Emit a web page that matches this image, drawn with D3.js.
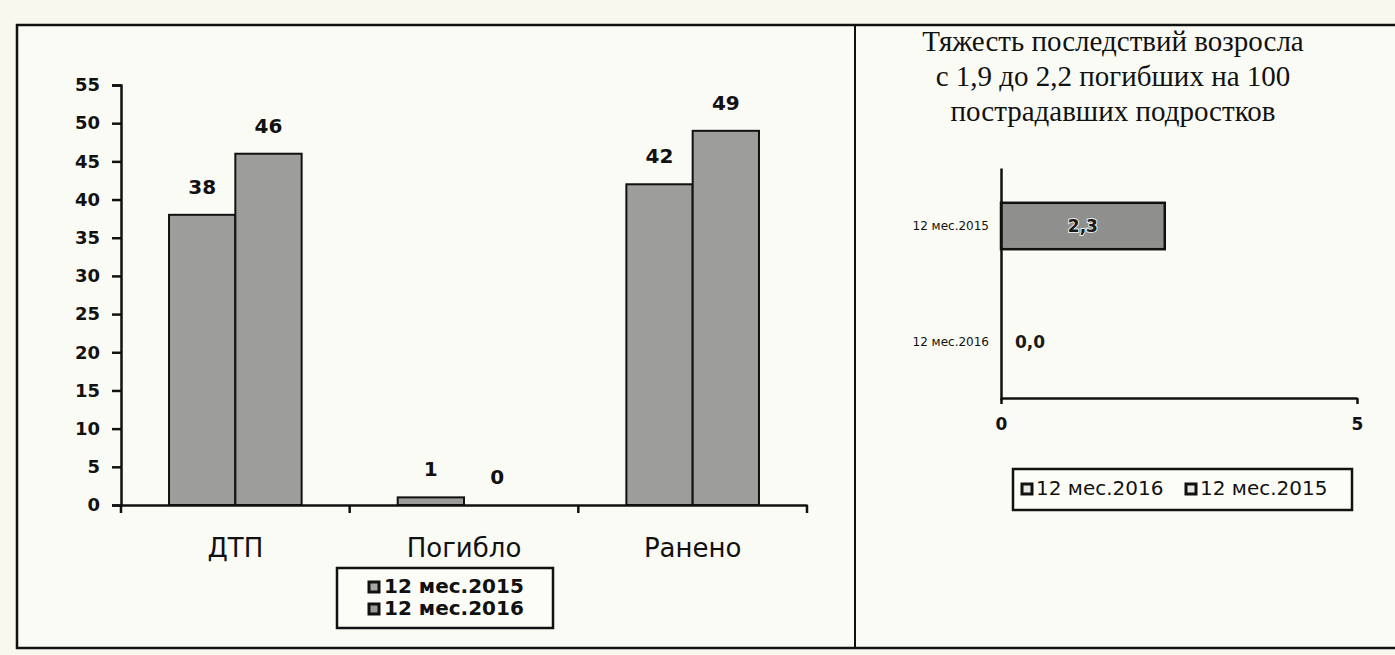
<!DOCTYPE html>
<html>
<head>
<meta charset="utf-8">
<script src="https://cdn.jsdelivr.net/npm/d3@7"></script>
<style>
  html, body { margin: 0; padding: 0; background: #f8f8ef; }
  svg { display: block; }
</style>
</head>
<body>
<svg id="chart" width="1395" height="655"></svg>
<script>
// ---- data ----
const categories = ["ДТП", "Погибло", "Ранено"];
const seriesNames = ["12 мес.2015", "12 мес.2016"];
const values2015 = [38, 1, 42];
const values2016 = [46, 0, 49];
const yTickValues = [0, 5, 10, 15, 20, 25, 30, 35, 40, 45, 50, 55];

const titleLines = ["Тяжесть последствий возросла", "с 1,9 до 2,2 погибших на 100", "пострадавших подростков"];
const severityCategories = ["12 мес.2015", "12 мес.2016"];
const severityValues = [2.3, 0.0];
const severityLabels = ["2,3", "0,0"];
const severityTicks = [0, 5];
const severityLegend = ["12 мес.2016", "12 мес.2015"];

// ---- setup ----
const svg = d3.select("#chart");
const SANS = "DejaVu Sans, Arial, sans-serif";
const SERIF = "Liberation Serif, Times New Roman, serif";
const barFill = "#9d9d9b";
const ink = "#111";

svg.append("rect").attr("x", 0).attr("y", 0).attr("width", 1395).attr("height", 655).attr("fill", "#f8f8ef");
// outer frame and divider
svg.append("rect").attr("x", 17).attr("y", 25).attr("width", 1400).attr("height", 623)
  .attr("fill", "#fbfbf5").attr("stroke", ink).attr("stroke-width", 2.5);
svg.append("line").attr("x1", 855).attr("x2", 855).attr("y1", 25).attr("y2", 648)
  .attr("stroke", ink).attr("stroke-width", 2);

// ---- left chart ----
const left = svg.append("g");
const x0 = d3.scaleBand().domain(categories).range([121, 807]).paddingInner(0.42).paddingOuter(0.21);
const x1 = d3.scaleBand().domain(seriesNames).range([0, x0.bandwidth()]);
const y = d3.scaleLinear().domain([0, 55]).range([505, 85]);

const rows = categories.map((c, i) => ({ cat: c, vals: [values2015[i], values2016[i]] }));

const groups = left.selectAll("g.grp").data(rows).join("g")
  .attr("class", "grp")
  .attr("transform", d => `translate(${x0(d.cat)},0)`);

groups.selectAll("rect").data(d => d.vals.map((v, j) => ({ s: seriesNames[j], v })))
  .join("rect")
  .filter(d => d.v > 0)
  .attr("x", d => x1(d.s))
  .attr("y", d => y(d.v))
  .attr("width", x1.bandwidth())
  .attr("height", d => y(0) - y(d.v))
  .attr("fill", barFill)
  .attr("stroke", ink)
  .attr("stroke-width", 2);

groups.selectAll("text.val").data(d => d.vals.map((v, j) => ({ s: seriesNames[j], v })))
  .join("text")
  .attr("class", "val")
  .attr("x", d => x1(d.s) + x1.bandwidth() / 2)
  .attr("y", d => y(d.v) - 21)
  .attr("text-anchor", "middle")
  .attr("font-family", SANS)
  .attr("font-weight", "bold")
  .attr("font-size", 20)
  .attr("fill", ink)
  .text(d => d.v);

// y axis
const yAxis = left.append("g")
  .attr("transform", `translate(${x0.range()[0]},0)`)
  .call(d3.axisLeft(y).tickValues(yTickValues).tickSize(9).tickPadding(12));
yAxis.select(".domain").attr("stroke", ink).attr("stroke-width", 2.5);
yAxis.selectAll(".tick line").attr("stroke", ink).attr("stroke-width", 2.5);
yAxis.selectAll(".tick text").attr("font-family", SANS).attr("font-weight", "bold")
  .attr("font-size", 18).attr("fill", ink);

// x axis
const xAxis = left.append("g")
  .attr("transform", `translate(0,${y(0)})`)
  .call(d3.axisBottom(x0).tickSize(0).tickPadding(34).tickSizeOuter(0));
xAxis.select(".domain").attr("stroke", ink).attr("stroke-width", 2.5);
xAxis.selectAll(".tick text").attr("font-family", SANS).attr("font-size", 26).attr("fill", ink);
// category boundary ticks
const bounds = d3.range(categories.length + 1).map(i => x0.range()[0] + i * x0.step());
left.selectAll("line.bt").data(bounds).join("line")
  .attr("class", "bt")
  .attr("x1", d => d).attr("x2", d => d)
  .attr("y1", y(0)).attr("y2", y(0) + 8)
  .attr("stroke", ink).attr("stroke-width", 2.5);

// left legend
const lg = left.append("g").attr("transform", "translate(337,568)");
lg.append("rect").attr("width", 216).attr("height", 60).attr("fill", "#fdfdf8")
  .attr("stroke", ink).attr("stroke-width", 2.5);
seriesNames.forEach((s, i) => {
  const r = lg.append("g").attr("transform", `translate(32,${14 + i * 22})`);
  r.append("rect").attr("width", 10).attr("height", 10).attr("fill", i === 0 ? "#a8a8a4" : "#9a9a96")
    .attr("stroke", ink).attr("stroke-width", 3);
  r.append("text").attr("x", 15).attr("y", 11).attr("font-family", SANS).attr("font-weight", "bold")
    .attr("font-size", 20).attr("fill", ink).text(s);
});

// ---- right chart ----
const right = svg.append("g");
right.selectAll("text.title").data(titleLines).join("text")
  .attr("class", "title")
  .attr("x", 1113)
  .attr("y", (d, i) => 51 + i * 35)
  .attr("text-anchor", "middle")
  .attr("font-family", SERIF)
  .attr("font-size", 29)
  .attr("fill", ink)
  .text(d => d);

const sx = d3.scaleLinear().domain([0, 5]).range([1001, 1357]);
const sy = d3.scaleBand().domain(severityCategories).range([168, 400]).paddingInner(0.6).paddingOuter(0.3);

const sevRows = severityCategories.map((c, i) => ({ c, v: severityValues[i], l: severityLabels[i] }));

right.selectAll("rect.sb").data(sevRows)
  .join("rect")
  .attr("class", "sb")
  .filter(d => d.v > 0)
  .attr("x", sx(0))
  .attr("y", d => sy(d.c))
  .attr("width", d => sx(d.v) - sx(0))
  .attr("height", sy.bandwidth())
  .attr("fill", "#8f8f8d")
  .attr("stroke", ink)
  .attr("stroke-width", 2.5);

right.selectAll("text.sl").data(sevRows)
  .join("text")
  .attr("class", "sl")
  .attr("x", d => d.v > 0 ? (sx(0) + sx(d.v)) / 2 : sx(0) + 14)
  .attr("y", d => sy(d.c) + sy.bandwidth() / 2)
  .attr("dy", "0.36em")
  .attr("text-anchor", d => d.v > 0 ? "middle" : "start")
  .attr("font-family", SANS)
  .attr("font-weight", "bold")
  .attr("font-size", 17)
  .attr("fill", "#1a1a1a")
  .attr("stroke", d => d.v > 0 ? "#e8e8e4" : "none")
  .attr("stroke-width", 2)
  .attr("paint-order", "stroke")
  .text(d => d.l);

const syAxis = right.append("g").attr("transform", `translate(${sx(0)},0)`)
  .call(d3.axisLeft(sy).tickSize(0).tickPadding(12));
syAxis.select(".domain").attr("stroke", ink).attr("stroke-width", 2.5);
syAxis.selectAll(".tick text").attr("font-family", SANS).attr("font-size", 12).attr("fill", ink);

const sxAxis = right.append("g").attr("transform", `translate(0,398)`)
  .call(d3.axisBottom(sx).tickValues(severityTicks).tickFormat(d3.format("d"))
    .tickSize(6).tickPadding(14).tickSizeOuter(0));
sxAxis.select(".domain").attr("stroke", ink).attr("stroke-width", 2.5);
sxAxis.selectAll(".tick line").attr("stroke", ink).attr("stroke-width", 2.5);
sxAxis.selectAll(".tick text").attr("font-family", SANS).attr("font-weight", "bold")
  .attr("font-size", 17).attr("fill", ink);

// right legend
const rg = right.append("g").attr("transform", "translate(1013,469)");
rg.append("rect").attr("width", 339).attr("height", 41).attr("fill", "#fdfdf8")
  .attr("stroke", ink).attr("stroke-width", 2.5);
let lx = 9;
severityLegend.forEach((s, i) => {
  const r = rg.append("g").attr("transform", `translate(${lx},15)`);
  r.append("rect").attr("width", 10).attr("height", 10).attr("fill", "#e6e6e2")
    .attr("stroke", ink).attr("stroke-width", 3);
  r.append("text").attr("x", 14).attr("y", 11).attr("font-family", SANS)
    .attr("font-size", 20).attr("fill", ink).text(s);
  lx += 164;
});
</script>
</body>
</html>
